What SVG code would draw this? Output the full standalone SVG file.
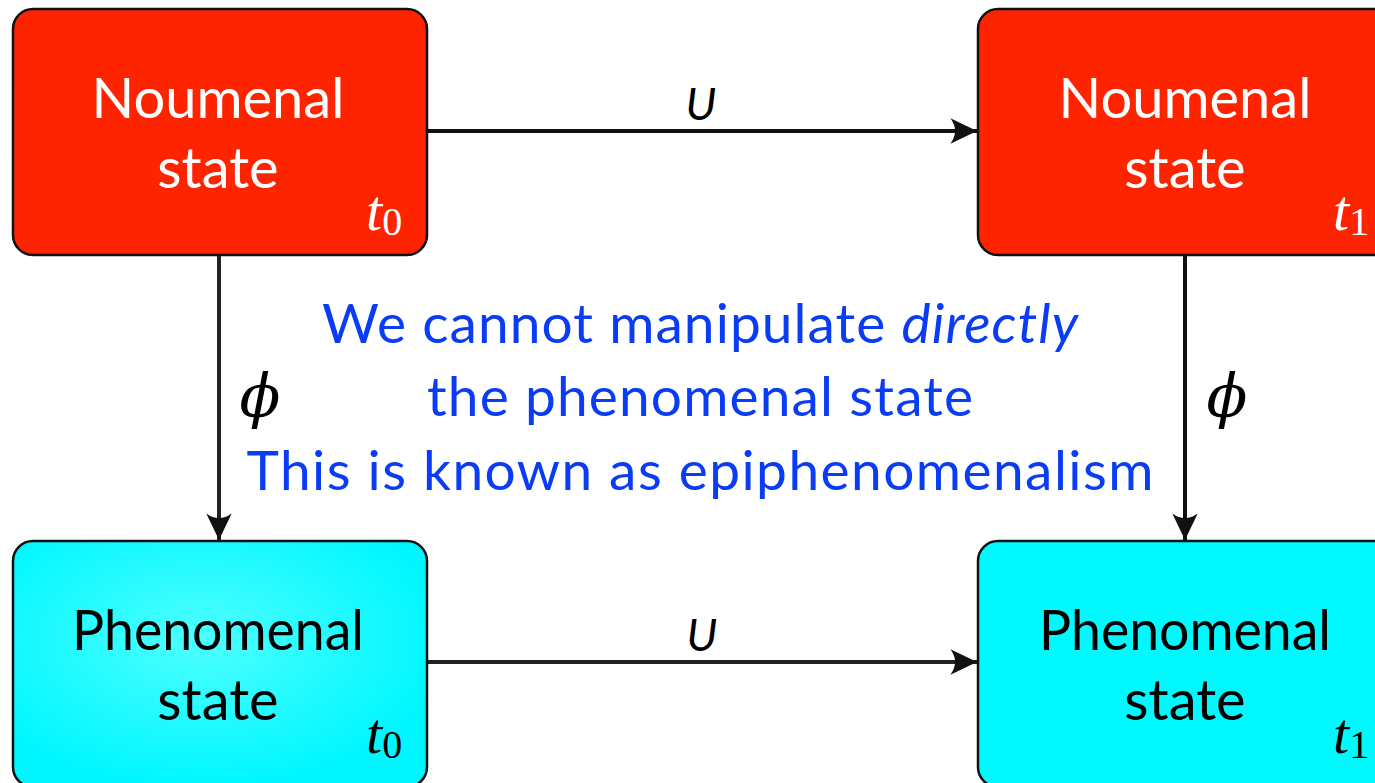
<svg xmlns="http://www.w3.org/2000/svg" width="1375" height="783" viewBox="0 0 1375 783">
  <style>
    .box { stroke: #111; stroke-width: 2.5; }
    .noum { fill: #ff2400; }
    .lbl { font-family: Lato, "Open Sans", sans-serif; font-size: 56px; text-anchor: middle; }
    .w { fill: #ffffff; }
    .k { fill: #000000; }
    .tm { font-family: "Liberation Serif", serif; font-style: italic; font-size: 58px; }
    .sub { font-family: "Liberation Serif", serif; font-style: normal; font-size: 40px; }
    .edge { stroke: #111; stroke-width: 4; fill: none; marker-end: url(#arr); }
    .elab { font-family: Lato, "Open Sans", sans-serif; font-style: italic; font-size: 45px; fill: #000; text-anchor: middle; }
    .phi { font-family: "DejaVu Serif", serif; font-style: italic; font-size: 60px; fill: #000; text-anchor: middle; }
    .note { font-family: Lato, "Open Sans", sans-serif; font-size: 55px; fill: #0a3cf5; text-anchor: middle; }
  </style>
  <defs>
    <marker id="arr" markerUnits="userSpaceOnUse" markerWidth="30" markerHeight="30" viewBox="-24 -12 26 24" refX="0" refY="0" orient="auto">
      <path d="M0,0 L-23,-11 Q-15,0 -23,11 Z" fill="#111"/>
    </marker>
    <radialGradient id="cyanL" cx="0.45" cy="0.4" r="0.6">
      <stop offset="0" stop-color="#4dffff"/>
      <stop offset="1" stop-color="#00f6ff"/>
    </radialGradient>
  </defs>
  <rect width="1375" height="783" fill="#ffffff"/>

  <g id="connectors">
    <line class="edge" x1="428" y1="131" x2="977" y2="131"/>
    <line class="edge" x1="428" y1="662" x2="977" y2="662" style="stroke:#222"/>
    <line class="edge" x1="219" y1="255" x2="219" y2="540" style="stroke:#222"/>
    <line class="edge" x1="1185" y1="255" x2="1185" y2="540"/>
    <text class="elab" x="701" y="120">U</text>
    <text class="elab" x="702" y="651">U</text>
    <text class="phi" x="260" y="417">ϕ</text>
    <text class="phi" x="1227" y="417">ϕ</text>
  </g>

  <g id="noumenal-t0">
    <rect class="box noum" x="13" y="9" width="414" height="246" rx="20"/>
    <text class="lbl w" x="218" y="118">Noumenal</text>
    <text class="lbl w" x="218" y="188">state</text>
    <text class="tm w" x="366" y="230">t<tspan class="sub" dy="5">0</tspan></text>
  </g>

  <g id="noumenal-t1">
    <rect class="box noum" x="978" y="9" width="416" height="246" rx="20"/>
    <text class="lbl w" x="1185" y="118">Noumenal</text>
    <text class="lbl w" x="1185" y="188">state</text>
    <text class="tm w" x="1333" y="230">t<tspan class="sub" dy="5">1</tspan></text>
  </g>

  <g id="phenomenal-t0">
    <rect class="box" x="13" y="541" width="414" height="246" rx="20" fill="url(#cyanL)"/>
    <text class="lbl k" x="218" y="650" textLength="292" lengthAdjust="spacingAndGlyphs">Phenomenal</text>
    <text class="lbl k" x="218" y="720">state</text>
    <text class="tm k" x="366" y="753">t<tspan class="sub" dy="5">0</tspan></text>
  </g>

  <g id="phenomenal-t1">
    <rect class="box" x="978" y="541" width="416" height="246" rx="20" fill="#00f8ff"/>
    <text class="lbl k" x="1185" y="650" textLength="292" lengthAdjust="spacingAndGlyphs">Phenomenal</text>
    <text class="lbl k" x="1185" y="720">state</text>
    <text class="tm k" x="1333" y="753">t<tspan class="sub" dy="5">1</tspan></text>
  </g>

  <g id="note">
    <text class="note" x="700" y="343" textLength="756">We cannot manipulate <tspan font-style="italic">directly</tspan></text>
    <text class="note" x="700" y="416" textLength="546">the phenomenal state</text>
    <text class="note" x="700" y="490" textLength="907">This is known as epiphenomenalism</text>
  </g>
</svg>
